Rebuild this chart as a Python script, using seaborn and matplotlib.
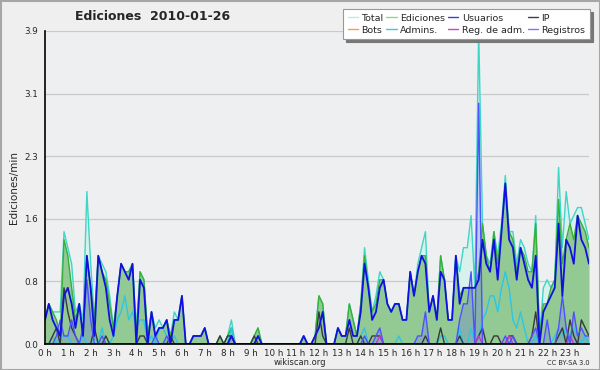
import numpy as np
import pandas as pd
import matplotlib
matplotlib.use("Agg")
import matplotlib.pyplot as plt
import seaborn as sns
from matplotlib.ticker import FixedLocator, MultipleLocator
from matplotlib.lines import Line2D
from matplotlib.patches import Rectangle

# ---- data: one row = one hour (6 values at 10-minute steps), edits per minute ----
hour_labels = [f"{h} h" for h in range(24)]
ytick_vals = [0.0, 0.78, 1.56, 2.34, 3.12, 3.9]
ytick_labels = ["0.0", "0.8", "1.6", "2.3", "3.1", "3.9"]

total = [
    0.3, 0.5, 0.4, 0.4, 0.4, 1.4,
    1.2, 1.0, 0.4, 0.5, 0.3, 1.9,
    1.0, 0.3, 1.1, 1.0, 0.9, 0.6,
    0.2, 0.6, 1.0, 0.9, 0.9, 1.0,
    0.2, 0.9, 0.8, 0.1, 0.4, 0.2,
    0.3, 0.2, 0.3, 0.1, 0.4, 0.3,
    0.6, 0.0, 0.0, 0.1, 0.1, 0.1,
    0.2, 0.0, 0.0, 0.0, 0.1, 0.0,
    0.1, 0.3, 0.0, 0.0, 0.0, 0.0,
    0.0, 0.1, 0.2, 0.0, 0.0, 0.0,
    0.0, 0.0, 0.0, 0.0, 0.0, 0.0,
    0.0, 0.0, 0.1, 0.0, 0.0, 0.1,
    0.6, 0.5, 0.0, 0.0, 0.0, 0.2,
    0.1, 0.1, 0.5, 0.3, 0.1, 0.5,
    1.2, 0.8, 0.4, 0.6, 0.9, 0.8,
    0.5, 0.4, 0.5, 0.5, 0.3, 0.3,
    0.9, 0.6, 1.0, 1.2, 1.4, 0.4,
    0.6, 0.3, 1.1, 0.8, 0.3, 0.3,
    1.1, 0.9, 1.2, 1.2, 1.6, 0.7,
    3.9, 1.5, 1.1, 1.0, 1.4, 1.1,
    1.5, 2.1, 1.4, 1.4, 1.0, 1.3,
    1.2, 1.0, 0.9, 1.6, 0.1, 0.7,
    0.8, 0.7, 0.8, 2.2, 1.2, 1.9,
    1.5, 1.6, 1.7, 1.7, 1.5, 1.3,
]
ediciones = [
    0.3, 0.5, 0.4, 0.3, 0.1, 1.3,
    1.1, 0.7, 0.3, 0.5, 0.1, 1.1,
    0.7, 0.3, 1.1, 0.9, 0.8, 0.5,
    0.2, 0.6, 1.0, 0.9, 0.9, 1.0,
    0.1, 0.9, 0.8, 0.1, 0.4, 0.1,
    0.2, 0.2, 0.3, 0.1, 0.3, 0.3,
    0.6, 0.0, 0.0, 0.1, 0.1, 0.1,
    0.2, 0.0, 0.0, 0.0, 0.1, 0.0,
    0.1, 0.2, 0.0, 0.0, 0.0, 0.0,
    0.0, 0.1, 0.2, 0.0, 0.0, 0.0,
    0.0, 0.0, 0.0, 0.0, 0.0, 0.0,
    0.0, 0.0, 0.1, 0.0, 0.0, 0.1,
    0.6, 0.5, 0.0, 0.0, 0.0, 0.2,
    0.1, 0.1, 0.5, 0.3, 0.1, 0.5,
    1.1, 0.7, 0.4, 0.5, 0.8, 0.8,
    0.5, 0.4, 0.5, 0.5, 0.3, 0.3,
    0.9, 0.6, 0.9, 1.1, 1.1, 0.4,
    0.6, 0.3, 1.1, 0.8, 0.3, 0.3,
    1.1, 0.6, 0.7, 0.7, 0.7, 0.7,
    0.9, 1.5, 1.1, 0.9, 1.4, 1.0,
    1.4, 2.0, 1.4, 1.3, 0.9, 1.2,
    1.1, 0.9, 0.9, 1.5, 0.1, 0.5,
    0.5, 0.7, 0.8, 1.8, 1.0, 1.3,
    1.5, 1.3, 1.6, 1.5, 1.4, 1.2,
]
usuarios = [
    0.3, 0.5, 0.3, 0.2, 0.1, 0.6,
    0.7, 0.5, 0.2, 0.5, 0.1, 1.1,
    0.7, 0.1, 1.1, 0.9, 0.7, 0.3,
    0.1, 0.6, 1.0, 0.9, 0.8, 1.0,
    0.0, 0.8, 0.7, 0.0, 0.4, 0.1,
    0.2, 0.2, 0.3, 0.0, 0.3, 0.3,
    0.6, 0.0, 0.0, 0.1, 0.1, 0.1,
    0.2, 0.0, 0.0, 0.0, 0.0, 0.0,
    0.0, 0.1, 0.0, 0.0, 0.0, 0.0,
    0.0, 0.0, 0.1, 0.0, 0.0, 0.0,
    0.0, 0.0, 0.0, 0.0, 0.0, 0.0,
    0.0, 0.0, 0.1, 0.0, 0.0, 0.1,
    0.2, 0.4, 0.0, 0.0, 0.0, 0.2,
    0.1, 0.1, 0.3, 0.1, 0.1, 0.4,
    1.0, 0.7, 0.3, 0.4, 0.7, 0.8,
    0.5, 0.4, 0.5, 0.5, 0.3, 0.3,
    0.9, 0.6, 0.9, 1.1, 1.0, 0.4,
    0.6, 0.3, 0.9, 0.8, 0.3, 0.3,
    1.1, 0.5, 0.7, 0.7, 0.7, 0.7,
    0.8, 1.3, 1.0, 0.9, 1.3, 0.8,
    1.4, 2.0, 1.3, 1.2, 0.8, 1.2,
    1.0, 0.8, 0.7, 1.1, 0.0, 0.4,
    0.5, 0.6, 0.7, 1.5, 0.6, 1.3,
    1.2, 1.0, 1.6, 1.3, 1.2, 1.0,
]
ip = [
    0.0, 0.0, 0.1, 0.2, 0.0, 0.7,
    0.4, 0.2, 0.1, 0.0, 0.0, 0.0,
    0.0, 0.2, 0.0, 0.0, 0.1, 0.0,
    0.0, 0.0, 0.0, 0.0, 0.0, 0.0,
    0.0, 0.1, 0.1, 0.0, 0.0, 0.0,
    0.0, 0.0, 0.0, 0.1, 0.0, 0.0,
    0.0, 0.0, 0.0, 0.0, 0.0, 0.0,
    0.0, 0.0, 0.0, 0.0, 0.1, 0.0,
    0.1, 0.1, 0.0, 0.0, 0.0, 0.0,
    0.0, 0.1, 0.0, 0.0, 0.0, 0.0,
    0.0, 0.0, 0.0, 0.0, 0.0, 0.0,
    0.0, 0.0, 0.0, 0.0, 0.0, 0.0,
    0.4, 0.1, 0.0, 0.0, 0.0, 0.0,
    0.0, 0.0, 0.2, 0.0, 0.0, 0.1,
    0.0, 0.0, 0.1, 0.1, 0.1, 0.0,
    0.0, 0.0, 0.0, 0.0, 0.0, 0.0,
    0.0, 0.0, 0.0, 0.0, 0.1, 0.0,
    0.0, 0.0, 0.2, 0.0, 0.0, 0.0,
    0.0, 0.1, 0.0, 0.0, 0.0, 0.0,
    0.1, 0.2, 0.0, 0.0, 0.1, 0.1,
    0.0, 0.0, 0.1, 0.1, 0.0, 0.0,
    0.0, 0.0, 0.1, 0.4, 0.0, 0.0,
    0.0, 0.0, 0.0, 0.1, 0.2, 0.0,
    0.3, 0.1, 0.0, 0.3, 0.2, 0.1,
]
admins = [
    0.0, 0.0, 0.1, 0.0, 0.1, 0.1,
    0.1, 0.0, 0.0, 0.0, 0.1, 0.0,
    0.0, 0.1, 0.0, 0.2, 0.0, 0.0,
    0.1, 0.3, 0.4, 0.6, 0.3, 0.4,
    0.2, 0.3, 0.3, 0.0, 0.1, 0.0,
    0.2, 0.2, 0.1, 0.0, 0.1, 0.0,
    0.0, 0.0, 0.0, 0.0, 0.0, 0.0,
    0.0, 0.0, 0.0, 0.0, 0.0, 0.0,
    0.0, 0.2, 0.0, 0.0, 0.0, 0.0,
    0.0, 0.0, 0.1, 0.0, 0.0, 0.0,
    0.0, 0.0, 0.0, 0.0, 0.0, 0.0,
    0.0, 0.0, 0.0, 0.0, 0.0, 0.0,
    0.0, 0.0, 0.0, 0.0, 0.0, 0.0,
    0.0, 0.0, 0.0, 0.0, 0.0, 0.1,
    0.2, 0.0, 0.0, 0.0, 0.0, 0.0,
    0.0, 0.0, 0.0, 0.1, 0.0, 0.0,
    0.0, 0.0, 0.0, 0.0, 0.0, 0.0,
    0.0, 0.0, 0.1, 0.1, 0.0, 0.0,
    0.0, 0.2, 0.0, 0.0, 0.2, 0.0,
    0.1, 0.3, 0.4, 0.6, 0.6, 0.4,
    0.7, 0.9, 0.7, 0.3, 0.2, 0.4,
    0.2, 0.0, 0.0, 0.1, 0.0, 0.0,
    0.0, 0.0, 0.1, 0.2, 0.1, 0.2,
    0.1, 0.2, 0.1, 0.0, 0.1, 0.0,
]
registros = [
    0.0, 0.0, 0.0, 0.1, 0.3, 0.1,
    0.1, 0.3, 0.1, 0.0, 0.2, 0.8,
    0.3, 0.0, 0.0, 0.1, 0.0, 0.0,
    0.0, 0.0, 0.0, 0.0, 0.0, 0.0,
    0.0, 0.0, 0.0, 0.0, 0.0, 0.1,
    0.0, 0.0, 0.1, 0.0, 0.0, 0.0,
    0.0, 0.0, 0.0, 0.0, 0.0, 0.0,
    0.0, 0.0, 0.0, 0.0, 0.0, 0.0,
    0.0, 0.1, 0.0, 0.0, 0.0, 0.0,
    0.0, 0.0, 0.0, 0.0, 0.0, 0.0,
    0.0, 0.0, 0.0, 0.0, 0.0, 0.0,
    0.0, 0.0, 0.0, 0.0, 0.0, 0.0,
    0.0, 0.0, 0.0, 0.0, 0.0, 0.0,
    0.0, 0.0, 0.0, 0.0, 0.0, 0.0,
    0.1, 0.0, 0.0, 0.1, 0.2, 0.0,
    0.0, 0.0, 0.0, 0.0, 0.0, 0.0,
    0.0, 0.0, 0.1, 0.1, 0.4, 0.0,
    0.0, 0.0, 0.0, 0.0, 0.0, 0.0,
    0.0, 0.3, 0.5, 0.5, 0.9, 0.0,
    3.0, 0.0, 0.0, 0.0, 0.0, 0.0,
    0.0, 0.1, 0.0, 0.1, 0.0, 0.0,
    0.0, 0.0, 0.1, 0.2, 0.0, 0.0,
    0.3, 0.0, 0.0, 0.2, 0.6, 0.2,
    0.0, 0.4, 0.1, 0.2, 0.1, 0.1,
]
reg_adm = [
    0.0, 0.0, 0.0, 0.0, 0.0, 0.0, 0.0, 0.0, 0.0, 0.0, 0.0, 0.0,
    0.0, 0.0, 0.0, 0.0, 0.0, 0.0, 0.0, 0.0, 0.0, 0.0, 0.0, 0.0,
    0.0, 0.0, 0.0, 0.0, 0.0, 0.0, 0.0, 0.0, 0.0, 0.0, 0.0, 0.0,
    0.0, 0.0, 0.0, 0.0, 0.0, 0.0, 0.0, 0.0, 0.0, 0.0, 0.0, 0.0,
    0.0, 0.0, 0.0, 0.0, 0.0, 0.0, 0.0, 0.0, 0.0, 0.0, 0.0, 0.0,
    0.0, 0.0, 0.0, 0.0, 0.0, 0.0, 0.0, 0.0, 0.0, 0.0, 0.0, 0.0,
    0.0, 0.0, 0.0, 0.0, 0.0, 0.0, 0.0, 0.0, 0.0, 0.0, 0.0, 0.0,
    0.0, 0.0, 0.0, 0.0, 0.1, 0.0, 0.0, 0.0, 0.0, 0.0, 0.0, 0.0,
    0.0, 0.0, 0.0, 0.0, 0.0, 0.0, 0.0, 0.0, 0.0, 0.0, 0.0, 0.0,
    0.0, 0.0, 0.0, 0.0, 0.0, 0.0, 0.1, 0.0, 0.0, 0.0, 0.0, 0.0,
    0.0, 0.0, 0.1, 0.0, 0.0, 0.0, 0.0, 0.0, 0.0, 0.0, 0.0, 0.0,
    0.0, 0.0, 0.0, 0.0, 0.0, 0.0, 0.1, 0.0, 0.0, 0.0, 0.0, 0.0,
]
bots = [
    0.0, 0.0, 0.0, 0.0, 0.0, 0.0, 0.0, 0.0, 0.0, 0.0, 0.0, 0.0,
    0.0, 0.0, 0.0, 0.0, 0.0, 0.0, 0.0, 0.0, 0.0, 0.0, 0.0, 0.0,
    0.0, 0.0, 0.0, 0.0, 0.0, 0.0, 0.0, 0.0, 0.0, 0.0, 0.0, 0.0,
    0.0, 0.0, 0.0, 0.0, 0.0, 0.0, 0.0, 0.0, 0.0, 0.0, 0.0, 0.0,
    0.0, 0.0, 0.0, 0.0, 0.0, 0.0, 0.0, 0.0, 0.0, 0.0, 0.0, 0.0,
    0.0, 0.0, 0.0, 0.0, 0.0, 0.0, 0.0, 0.0, 0.0, 0.0, 0.0, 0.0,
    0.0, 0.0, 0.0, 0.0, 0.0, 0.0, 0.0, 0.0, 0.0, 0.0, 0.0, 0.0,
    0.0, 0.0, 0.0, 0.0, 0.0, 0.0, 0.0, 0.0, 0.0, 0.0, 0.0, 0.0,
    0.0, 0.0, 0.0, 0.0, 0.0, 0.0, 0.0, 0.0, 0.0, 0.0, 0.0, 0.0,
    0.0, 0.0, 0.0, 0.0, 0.0, 0.0, 0.0, 0.0, 0.0, 0.0, 0.0, 0.0,
    0.0, 0.0, 0.0, 0.0, 0.0, 0.0, 0.0, 0.0, 0.0, 0.0, 0.0, 0.0,
    0.0, 0.0, 0.0, 0.0, 0.0, 0.0, 0.0, 0.0, 0.0, 0.0, 0.0, 0.0,
]

hours = np.arange(len(total)) / 6.0
df = pd.DataFrame({"h": hours, "Total": total, "Ediciones": ediciones,
                   "Usuarios": usuarios, "IP": ip, "Bots": bots,
                   "Admins.": admins, "Reg. de adm.": reg_adm,
                   "Registros": registros})

sns.set_style("white")
plt.rcParams["font.family"] = ["DejaVu Sans"]

BG = "#efeff0"
fig = plt.figure(figsize=(6, 3.7), dpi=100, facecolor=BG)
ax = fig.add_axes([45 / 600, 26 / 370, 544 / 600, 313 / 370])
ax.set_facecolor("#eeeff1")
fig.patches.append(Rectangle((0, 0), 1, 1, transform=fig.transFigure,
                             fill=False, edgecolor="#a6a6a6", lw=2.2))

# fills
ax.fill_between(df["h"], 0, df["Total"], color="#d9f1ed", lw=0, zorder=1)
ax.fill_between(df["h"], 0, df["Ediciones"], color="#93c993", lw=0, zorder=2)
ax.fill_between(df["h"], 0, df["Registros"], color="#5a5aff", alpha=0.22, lw=0, zorder=3)

# lines
line_specs = [
    ("Total", "#3ed6c6", 1.0, 4),
    ("Ediciones", "#38b038", 1.0, 5),
    ("Bots", "#f0a040", 1.0, 6),
    ("Admins.", "#2cc6e6", 1.0, 7),
    ("IP", "#383838", 1.0, 8),
    ("Reg. de adm.", "#d030d0", 1.0, 9),
    ("Registros", "#5050ff", 1.0, 10),
    ("Usuarios", "#1010e0", 1.3, 11),
]
for name, col, lw, z in line_specs:
    sns.lineplot(data=df, x="h", y=name, ax=ax, color=col, lw=lw, zorder=z,
                 legend=False, estimator=None)

ax.set_xlim(0, hours[-1])
ax.set_ylim(0, 3.9)
ax.yaxis.set_major_locator(FixedLocator(ytick_vals))
ax.set_yticklabels(ytick_labels)
ax.yaxis.set_minor_locator(MultipleLocator(3.9 / 20))
ax.xaxis.set_major_locator(FixedLocator(list(range(24))))
ax.set_xticklabels(hour_labels)
ax.xaxis.set_minor_locator(MultipleLocator(1 / 6))
for y in ytick_vals[1:]:
    ax.axhline(y, color="#c9c9c9", lw=0.9, zorder=0.5)

for s in ["top", "right"]:
    ax.spines[s].set_visible(False)
for s in ["left", "bottom"]:
    ax.spines[s].set_color("black")
    ax.spines[s].set_linewidth(1.2)
    ax.spines[s].set_zorder(20)
ax.tick_params(axis="both", which="major", direction="out", length=4, width=0.9,
               color="black", labelsize=6.3, pad=1)
ax.tick_params(axis="both", which="minor", direction="out", length=2.5, width=0.8,
               color="black")
ax.tick_params(axis="x", which="major", length=3, pad=0.5)
ax.set_xlabel("")
ax.set_ylabel("Ediciones/min", fontsize=7.5, labelpad=4)

fig.text(153 / 600, 1 - 17 / 370, "Ediciones  2010-01-26", ha="center", va="center",
         fontsize=9, fontweight="bold")
fig.text(300 / 600, 1 - 362.5 / 370, "wikiscan.org", ha="center", va="center", fontsize=6)
fig.text(590 / 600, 1 - 363 / 370, "CC BY-SA 3.0", ha="right", va="center", fontsize=4.8)

legend_items = [
    ("Total", "#b6ecec"), ("Bots", "#f0a040"),
    ("Ediciones", "#8fd88f"), ("Admins.", "#40c8e0"),
    ("Usuarios", "#3a3ae0"), ("Reg. de adm.", "#d040d0"),
    ("IP", "#404040"), ("Registros", "#7878ff"),
]
handles = [Line2D([0], [0], color=c, lw=1.0) for _, c in legend_items]
labels = [n for n, _ in legend_items]
leg = fig.legend(handles, labels, ncol=4, loc="upper right",
                 bbox_to_anchor=(590 / 600, 1 - 9 / 370), fontsize=6.8,
                 frameon=True, fancybox=False, shadow={"color": "#777777", "alpha": 1},
                 handlelength=1.1, handletextpad=0.35, columnspacing=0.3,
                 labelspacing=0.3, borderpad=0.5, borderaxespad=0)
leg.get_frame().set_edgecolor("#999999")
leg.get_frame().set_facecolor("white")
leg.get_frame().set_linewidth(0.8)

fig.savefig("out.png", dpi=100, facecolor=BG)
